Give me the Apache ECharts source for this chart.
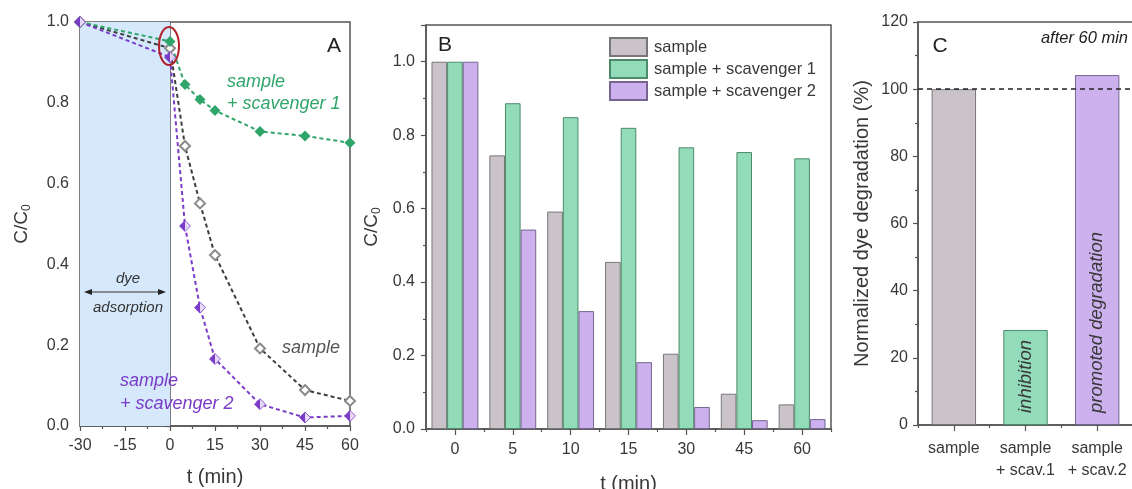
<!DOCTYPE html>
<html>
<head>
<meta charset="utf-8">
<script src="https://cdn.jsdelivr.net/npm/echarts@6/dist/echarts.min.js"></script>
<style>
  html, body { margin: 0; padding: 0; background: #fff; }
  #main { width: 1132px; height: 489px; }
</style>
</head>
<body>
<div id="main"></div>
<script>
// panel A: C/C0 vs time
const tA = [-30, 0, 5, 10, 15, 30, 45, 60]
const aSample = [1.0, 0.935, 0.693, 0.551, 0.423, 0.192, 0.089, 0.062]
const aScav1 = [1.0, 0.952, 0.845, 0.808, 0.781, 0.729, 0.718, 0.701]
const aScav2 = [1.0, 0.913, 0.495, 0.293, 0.166, 0.054, 0.021, 0.025]

// panel B: bars per time step
const tB = ['0', '5', '10', '15', '30', '45', '60']
const bSample = [1.0, 0.745, 0.592, 0.455, 0.205, 0.096, 0.067]
const bScav1 = [1.0, 0.887, 0.849, 0.820, 0.767, 0.754, 0.737]
const bScav2 = [1.0, 0.543, 0.321, 0.182, 0.060, 0.024, 0.027]
const legendNames = ['sample', 'sample + scavenger 1', 'sample + scavenger 2']

// panel C: normalized degradation after 60 min
const cCats = ['sample', 'sample\n+ scav.1', 'sample\n+ scav.2']
const cValues = [100, 28.3, 104.2]
const cNotes = ['', 'inhibition', 'promoted degradation']

const FONT = "'Liberation Sans', Arial, sans-serif"
const AX = '#555'
const TXT = '#383838'
const GRAY = '#cbc3ca', GREEN = '#93dcb9', PURPLE = '#cdb1ee'
const GRAY_B = '#777', GREEN_B = '#4c8a6a', PURPLE_B = '#75658f'
const GREEN_L = '#2fa56a', PURPLE_L = '#7a3cc8'

const zip = (xs, ys) => xs.map((x, i) => [x, ys[i]])
const fix1 = v => v.toFixed(1)

function valueAxis(grid, min, max, interval, fmt, extra) {
    return Object.assign({
        type: 'value', gridIndex: grid, min: min, max: max, interval: interval,
        axisLine: { show: true, lineStyle: { color: AX, width: 1.5 } },
        axisTick: { show: true, length: 5, lineStyle: { color: AX, width: 1.2 } },
        minorTick: { show: true, splitNumber: 2, length: 3, lineStyle: { color: AX, width: 1.2 } },
        splitLine: { show: false },
        axisLabel: { color: TXT, fontSize: 16, fontFamily: FONT, formatter: fmt, margin: 11 },
        nameTextStyle: { color: TXT, fontSize: 20, fontFamily: FONT }
    }, extra || {})
}

function catAxis(grid, data, extra) {
    return Object.assign({
        type: 'category', gridIndex: grid, data: data, position: 'bottom',
        axisLine: { show: true, lineStyle: { color: AX, width: 1.5 } },
        axisTick: { show: true, alignWithLabel: true, length: 6, lineStyle: { color: AX, width: 1.2 } },
        splitLine: { show: false },
        axisLabel: { color: TXT, fontSize: 16, fontFamily: FONT, margin: 13, interval: 0 },
        nameTextStyle: { color: TXT, fontSize: 20, fontFamily: FONT }
    }, extra || {})
}

// second category axis only for ticks on the category boundaries
function boundaryTicks(grid, data) {
    return {
        type: 'category', gridIndex: grid, data: data, position: 'bottom',
        axisLine: { show: false },
        axisTick: { show: true, alignWithLabel: false, length: 3, lineStyle: { color: AX, width: 1.2 } },
        axisLabel: { show: false }, splitLine: { show: false }
    }
}

const dash = [4, 3]
const halfPurple = {
    type: 'linear', x: 0, y: 0, x2: 1, y2: 0,
    colorStops: [
        { offset: 0, color: PURPLE_L }, { offset: 0.5, color: PURPLE_L },
        { offset: 0.5, color: '#e6d9f7' }, { offset: 1, color: '#e6d9f7' }
    ]
}

function barSeries(name, x, y, data, color, border) {
    return {
        name: name, type: 'bar', xAxisIndex: x, yAxisIndex: y, data: data,
        barGap: '0%', barCategoryGap: '19%',
        itemStyle: { color: color, borderColor: border, borderWidth: 1 }
    }
}

const italic = (text, x, y, size, fill, align) => ({
    type: 'text', z: 100,
    style: {
        text: text, x: x, y: y, fill: fill, textAlign: align || 'left', textVerticalAlign: 'middle',
        font: 'italic ' + size + 'px ' + FONT
    }
})

const subTitle = {
    color: TXT, fontSize: 19, fontFamily: FONT,
    rich: { s: { fontSize: 12, padding: [10, 0, 0, 0] } }
}

const gridBase = { show: true, borderColor: AX, borderWidth: 1.5, backgroundColor: 'transparent', outerBoundsMode: 'none', containLabel: false }

const option = {
    animation: false,
    backgroundColor: '#fff',
    textStyle: { fontFamily: FONT },
    grid: [
        Object.assign({ left: 80, top: 22, width: 270, height: 404 }, gridBase),
        Object.assign({ left: 426, top: 25, width: 405, height: 404 }, gridBase),
        Object.assign({ left: 918, top: 22, width: 215, height: 403 }, gridBase)
    ],
    xAxis: [
        valueAxis(0, -30, 60, 15, null, {
            name: 't (min)', nameLocation: 'middle', nameGap: 41,
            axisLabel: { color: TXT, fontSize: 16, fontFamily: FONT, margin: 12 }
        }),
        catAxis(1, tB, { name: 't (min)', nameLocation: 'middle', nameGap: 45 }),
        boundaryTicks(1, tB),
        catAxis(2, cCats, {
            axisLabel: { color: TXT, fontSize: 16, fontFamily: FONT, margin: 13, interval: 0, lineHeight: 22 }
        }),
        boundaryTicks(2, cCats)
    ],
    yAxis: [
        valueAxis(0, 0, 1, 0.2, fix1, {
            name: 'C/C{s|0}', nameLocation: 'middle', nameRotate: 90, nameGap: 47,
            nameTextStyle: subTitle
        }),
        valueAxis(1, 0, 1.1, 0.2, fix1, {
            name: 'C/C{s|0}', nameLocation: 'middle', nameRotate: 90, nameGap: 43,
            axisLabel: { color: TXT, fontSize: 16, fontFamily: FONT, formatter: fix1, margin: 11, showMaxLabel: false },
            nameTextStyle: subTitle
        }),
        valueAxis(2, 0, 120, 20, null, {
            name: 'Normalized dye degradation (%)', nameLocation: 'middle', nameRotate: 90, nameGap: 46,
            axisLabel: { color: TXT, fontSize: 16, fontFamily: FONT, margin: 10 }
        })
    ],
    legend: {
        orient: 'vertical', left: 609, top: 37, padding: 0, itemWidth: 37, itemHeight: 18, itemGap: 2,
        icon: 'rect', data: legendNames,
        textStyle: { color: TXT, fontSize: 16.5, fontFamily: FONT, padding: [0, 0, 0, 2] }
    },
    series: [
        {
            name: 'A sample', type: 'line', xAxisIndex: 0, yAxisIndex: 0, data: zip(tA, aSample),
            symbol: 'emptyDiamond', symbolSize: 10,
            itemStyle: { color: '#8a8a8a', borderColor: '#8a8a8a', borderWidth: 1.2 },
            lineStyle: { color: '#3d3d3d', width: 2, type: dash },
            markArea: {
                silent: true, itemStyle: { color: '#d6e8fb' },
                data: [[{ xAxis: -30 }, { xAxis: 0 }]]
            }
        },
        {
            name: 'A scav1', type: 'line', xAxisIndex: 0, yAxisIndex: 0, data: zip(tA, aScav1),
            symbol: 'diamond', symbolSize: 11,
            itemStyle: { color: GREEN_L },
            lineStyle: { color: GREEN_L, width: 2, type: dash }
        },
        {
            name: 'A scav2', type: 'line', xAxisIndex: 0, yAxisIndex: 0, data: zip(tA, aScav2),
            symbol: 'diamond', symbolSize: 11,
            itemStyle: { color: halfPurple, borderColor: PURPLE_L, borderWidth: 0.8 },
            lineStyle: { color: PURPLE_L, width: 2, type: dash }
        },
        barSeries(legendNames[0], 1, 1, bSample, GRAY, GRAY_B),
        barSeries(legendNames[1], 1, 1, bScav1, GREEN, GREEN_B),
        barSeries(legendNames[2], 1, 1, bScav2, PURPLE, PURPLE_B),
        {
            name: 'C', type: 'bar', xAxisIndex: 3, yAxisIndex: 2, barCategoryGap: '38%',
            data: cValues.map((v, i) => ({
                value: v,
                itemStyle: {
                    color: [GRAY, GREEN, PURPLE][i],
                    borderColor: [GRAY_B, GREEN_B, PURPLE_B][i], borderWidth: 1
                },
                label: { formatter: cNotes[i] }
            })),
            label: {
                show: true, position: 'insideBottom', rotate: 90, align: 'left', verticalAlign: 'middle',
                distance: 12, color: TXT, fontSize: 18.5, fontStyle: 'italic', fontFamily: FONT
            },
            markLine: {
                silent: true, symbol: 'none', label: { show: false },
                lineStyle: { color: '#222', type: [5, 4], width: 1.5 },
                data: [{ yAxis: 100 }]
            }
        }
    ],
    graphic: [
        { type: 'text', z: 100, style: { text: 'A', x: 334, y: 46, fill: '#222', font: '21px ' + FONT, textAlign: 'center', textVerticalAlign: 'middle' } },
        { type: 'text', z: 100, style: { text: 'B', x: 445, y: 45, fill: '#222', font: '21px ' + FONT, textAlign: 'center', textVerticalAlign: 'middle' } },
        { type: 'text', z: 100, style: { text: 'C', x: 940, y: 46, fill: '#222', font: '21px ' + FONT, textAlign: 'center', textVerticalAlign: 'middle' } },
        italic('after 60 min', 1128, 38, 16.5, '#222', 'right'),
        italic('sample', 227, 82, 18, GREEN_L),
        italic('+ scavenger 1', 227, 104, 18, GREEN_L),
        italic('sample', 282, 348, 18, '#555'),
        italic('sample', 120, 381, 18, PURPLE_L),
        italic('+ scavenger 2', 120, 404, 18, PURPLE_L),
        italic('dye', 128, 279, 15, '#333', 'center'),
        italic('adsorption', 128, 308, 15, '#333', 'center'),
        { type: 'line', z: 100, shape: { x1: 88, y1: 292, x2: 162, y2: 292 }, style: { stroke: '#333', lineWidth: 1.2 } },
        { type: 'polygon', z: 100, shape: { points: [[84, 292], [92, 289], [92, 295]] }, style: { fill: '#222' } },
        { type: 'polygon', z: 100, shape: { points: [[166, 292], [158, 289], [158, 295]] }, style: { fill: '#222' } },
        { type: 'ellipse', z: 100, shape: { cx: 169, cy: 46, rx: 10, ry: 19 }, style: { fill: 'none', stroke: '#b0202a', lineWidth: 2 } }
    ]
}

const chart = echarts.init(document.getElementById('main'))
chart.setOption(option)
</script>
</body>
</html>
